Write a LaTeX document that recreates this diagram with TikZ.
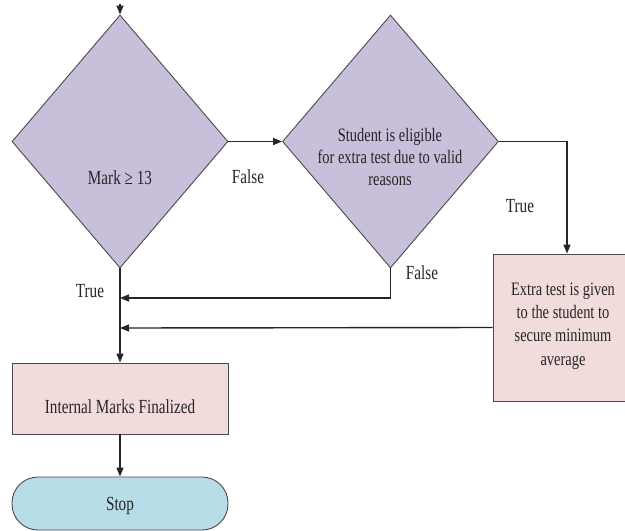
\documentclass[tikz,border=0pt]{standalone}
\usepackage{fontspec}
\setmainfont{Liberation Serif}[FakeStretch=0.76]
\usetikzlibrary{shapes.geometric,arrows.meta}
\definecolor{lav}{HTML}{C8BFDB}
\definecolor{pinkbox}{HTML}{F2DCDB}
\definecolor{bluebox}{HTML}{B7DDE8}
\definecolor{edge}{HTML}{4A4A4A}
\tikzset{
  every node/.style={font=\fontsize{20}{23}\selectfont, text=black!85},
  decision/.style={shape=diamond, draw=edge, line width=0.9pt, fill=lav, inner sep=0pt, minimum width=216pt, minimum height=253pt},
  procbox/.style={rectangle, draw=edge, line width=0.9pt, fill=pinkbox, inner sep=0pt},
  termbox/.style={rectangle, rounded corners=26pt, draw=edge, line width=0.9pt, fill=bluebox, inner sep=0pt, minimum width=216pt, minimum height=53pt},
  conn/.style={draw=black!85, line width=1.4pt, -{Triangle[length=9pt,width=7pt]}},
  lbl/.style={inner sep=0pt}
}
\begin{document}
\begin{tikzpicture}[x=1pt,y=-1pt]
\clip (0,0) rectangle (625,531);
\fill[white] (0,0) rectangle (625,531);
% shapes
\node[decision] (d1) at (120,141.5) {};
\node[decision] (d2) at (390.5,141.5) {};
\node[procbox, minimum width=148pt, minimum height=147pt] (extra) at (567,327.5) {};
\node[procbox, minimum width=216pt, minimum height=71pt] (internal) at (120,398.5) {};
\node[termbox] (stop) at (120,503.5) {};
% texts
\node[lbl] (t1) at (120,178) {Mark ≥ 13};
\node[lbl, align=center, font=\fontsize{19}{22}\selectfont] (t2) at (390,157) {Student is eligible\\for extra test due to valid\\reasons};
\node[lbl, align=center, font=\fontsize{19}{23.3}\selectfont] (t3) at (563,326) {Extra test is given\\to the student to\\secure minimum\\average};
\node[lbl] (t4) at (120,407) {Internal Marks Finalized};
\node[lbl] (t5) at (120,506) {Stop};
% junctions
\coordinate (top) at (120,4);
\coordinate (j1) at (120,298);
\coordinate (j2) at (120,328);
% connectors
\draw[conn] (top) -- (d1.north);
\draw[conn] (d1.east) -- (d2.west);
\draw[conn] (d2.east) -| (extra.north);
\draw[conn] (d2.south) |- (j1);
\draw[conn] (extra.west) -- (j2);
\draw[conn] (d1.south) -- (internal.north);
\draw[conn] (internal.south) -- (stop.north);
% labels
\node[lbl] (f1) at (248,177) {False};
\node[lbl] (tr1) at (520,206) {True};
\node[lbl] (f2) at (422,273) {False};
\node[lbl] (tr2) at (90,291) {True};
\end{tikzpicture}
\end{document}
